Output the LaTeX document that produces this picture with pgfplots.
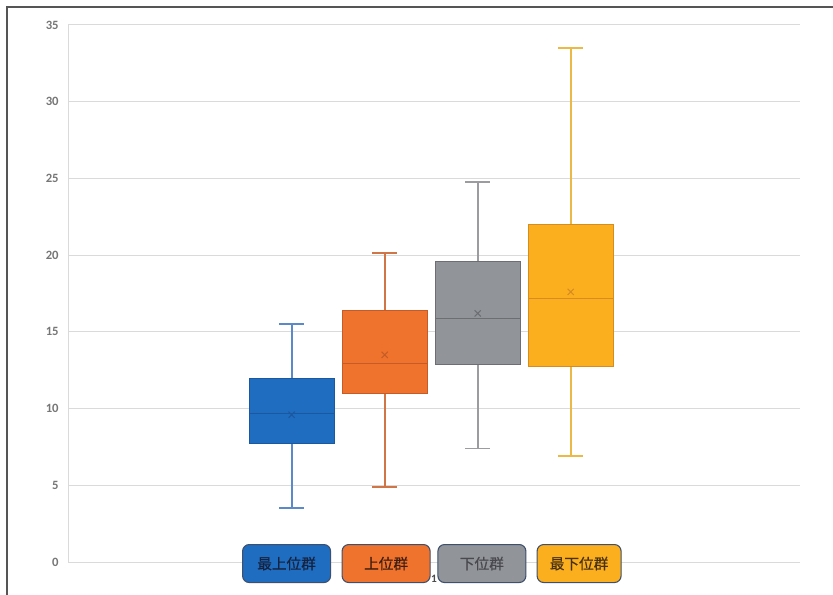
\documentclass[border=0pt]{standalone}
\usepackage{pgfplots}
\pgfplotsset{compat=1.18}
\usepgfplotslibrary{statistics}
\usepackage{fontspec}
\setmainfont{Carlito}
\newfontfamily\jp{Noto Sans CJK JP}[FakeBold=0.5]

% box fills, outlines/medians, whiskers
\definecolor{cBlue}{RGB}{31,109,192}
\definecolor{mBlue}{RGB}{28,88,160}
\definecolor{wBlue}{RGB}{92,138,200}
\definecolor{cOrange}{RGB}{240,115,45}
\definecolor{mOrange}{RGB}{196,92,40}
\definecolor{wOrange}{RGB}{208,118,70}
\definecolor{cGray}{RGB}{145,148,152}
\definecolor{mGray}{RGB}{108,110,114}
\definecolor{wGray}{RGB}{155,155,160}
\definecolor{cYellow}{RGB}{252,175,30}
\definecolor{mYellow}{RGB}{214,140,32}
\definecolor{wYellow}{RGB}{236,184,70}
\definecolor{gridc}{RGB}{218,218,218}
\definecolor{ticktext}{RGB}{118,118,118}
\definecolor{keyborder}{RGB}{62,80,110}

\pgfplotsset{
  grpbox/.style n args={3}{
    boxplot/draw direction=y,
    boxplot/box extend=0.92,
    boxplot/whisker extend=0.27,
    boxplot/every box/.style={draw=#2, fill=#1, line width=0.5pt},
    boxplot/every median/.style={draw=#2, line width=0.8pt},
    boxplot/every whisker/.style={draw=#3, line width=1.25pt},
    draw=#3, line width=1.25pt,
  },
}

\begin{document}
\begin{tikzpicture}
\useasboundingbox (0pt,0pt) rectangle (624.75pt,445.5pt);

\begin{axis}[
  at={(51pt,24pt)}, anchor=south west,
  width=549pt, height=402.75pt, scale only axis,
  xmin=-3.935, xmax=3.935, ymin=0, ymax=35,
  axis lines=left,
  axis line style={-, draw=gridc, line width=0.75pt},
  ytick={0,5,...,35},
  xtick={0}, xticklabels={1},
  major tick length=0pt,
  ymajorgrids,
  grid style={draw=gridc, line width=0.75pt},
  /pgf/number format/assume math mode=true,
  yticklabel style={font=\fontsize{9.5}{11}\selectfont\bfseries, text=ticktext, xshift=-3.5pt},
  xticklabel style={font=\fontsize{8.5}{10}\selectfont\bfseries, text=black!70, yshift=-6pt},
  clip=false,
]
% 最上位群
\addplot[grpbox={cBlue}{mBlue}{wBlue},
  boxplot prepared={draw position=-1.53,
    lower whisker=3.5, lower quartile=7.75, median=9.7,
    upper quartile=12.0, upper whisker=15.5}]
  coordinates {};
% 上位群
\addplot[grpbox={cOrange}{mOrange}{wOrange},
  boxplot prepared={draw position=-0.53,
    lower whisker=4.9, lower quartile=11.0, median=12.95,
    upper quartile=16.4, upper whisker=20.15}]
  coordinates {};
% 下位群
\addplot[grpbox={cGray}{mGray}{wGray},
  boxplot prepared={draw position=0.47,
    lower whisker=7.4, lower quartile=12.9, median=15.9,
    upper quartile=19.6, upper whisker=24.75}]
  coordinates {};
% 最下位群
\addplot[grpbox={cYellow}{mYellow}{wYellow},
  boxplot prepared={draw position=1.47,
    lower whisker=6.9, lower quartile=12.75, median=17.15,
    upper quartile=22.0, upper whisker=33.5}]
  coordinates {};

% group means
\addplot[only marks, mark=x, mark size=3.3pt, line width=0.8pt, color=mBlue] coordinates {(-1.53,9.6)};
\addplot[only marks, mark=x, mark size=3.3pt, line width=0.8pt, color=mOrange] coordinates {(-0.53,13.5)};
\addplot[only marks, mark=x, mark size=3.3pt, line width=0.8pt, color=mGray] coordinates {(0.47,16.2)};
\addplot[only marks, mark=x, mark size=3.3pt, line width=0.8pt, color=mYellow] coordinates {(1.47,17.6)};

\coordinate (k1) at (axis cs:-1.585,-0.1);
\coordinate (k2) at (axis cs:-0.515,-0.1);
\coordinate (k3) at (axis cs:0.515,-0.1);
\coordinate (k4) at (axis cs:1.56,-0.1);
\end{axis}

% legend keys
\tikzset{key/.style={draw=keyborder, line width=0.8pt, rounded corners=5pt,
  minimum width=66pt, minimum height=28.5pt, inner sep=0pt,
  font=\jp\fontsize{11}{12}\selectfont}}
\node[key, fill=cBlue,   text={rgb,255:red,22;green,34;blue,62}] at (k1) {最上位群};
\node[key, fill=cOrange, text={rgb,255:red,62;green,30;blue,18}] at (k2) {上位群};
\node[key, fill=cGray,   text={rgb,255:red,72;green,72;blue,78}] at (k3) {下位群};
\node[key, fill=cYellow, text={rgb,255:red,72;green,50;blue,20}, minimum width=63pt] at (k4) {最下位群};

% outer frame
\draw[draw={rgb,255:red,85;green,85;blue,85}, line width=1.1pt] (5.25pt,-2pt) -- (5.25pt,440.25pt) -- (627pt,440.25pt);
\end{tikzpicture}
\end{document}
